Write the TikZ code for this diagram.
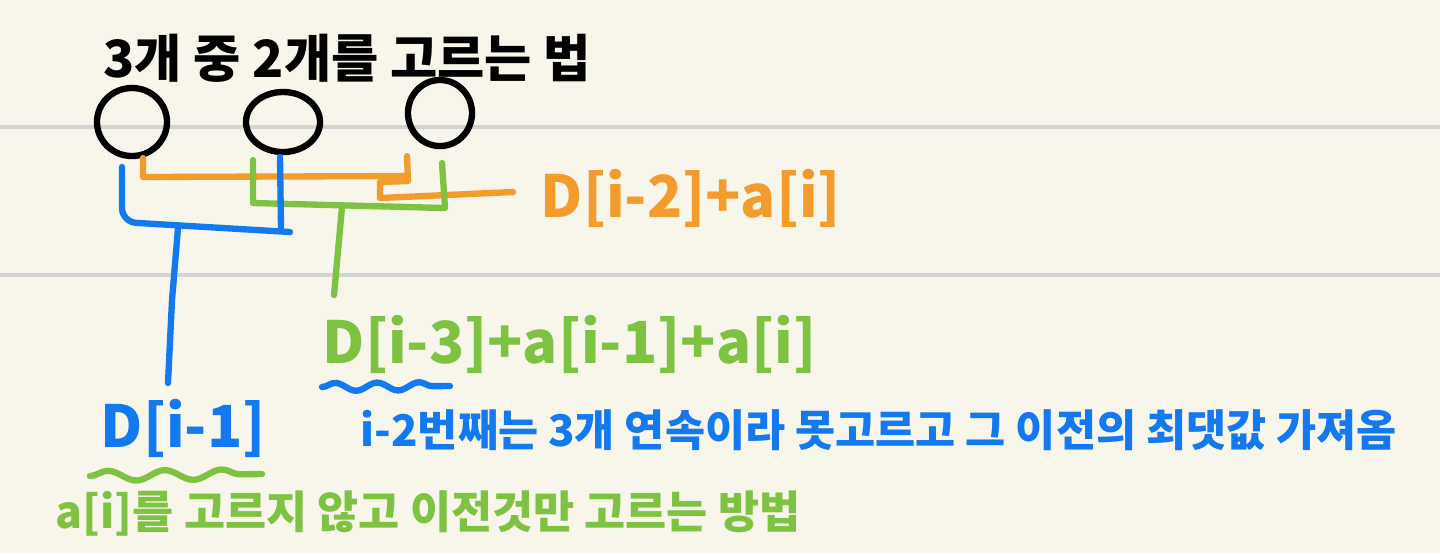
\documentclass[tikz,border=0pt]{standalone}
\usepackage{fontspec}
\setmainfont{Noto Sans CJK KR}
\usetikzlibrary{shapes.geometric,decorations.pathmorphing}
\definecolor{papier}{HTML}{F8F6EA}
\definecolor{regle}{HTML}{D3D3D3}
\definecolor{orangeS}{HTML}{F39B2B}
\definecolor{vertS}{HTML}{7EC242}
\definecolor{bleuS}{HTML}{1279F0}

\begin{document}
\begin{tikzpicture}[x=0.01cm, y=-0.01cm]
  % Styles du croquis
  \tikzset{
    trait/.style={line width=1.8pt, line cap=round, line join=round},
    rond/.style={ellipse, draw, trait, inner sep=0pt},
    ligne/.style={regle, line width=1.2pt},
    etiq/.style={anchor=west, inner sep=0pt, font=\bfseries\fontsize{16.5}{19}\selectfont},
    note/.style={anchor=west, inner sep=0pt, font=\bfseries\fontsize{12.4}{14}\selectfont},
    vague/.style={trait, decorate, decoration={snake, amplitude=0.4mm, segment length=4.2mm}}
  }

  % Fond et lignes du cahier
  \fill[papier] (0,0) rectangle (1440,553);
  \useasboundingbox (0,0) rectangle (1440,553);
  \draw[ligne] (0,127) -- (1440,127);
  \draw[ligne] (0,275) -- (1440,275);

  % Titre
  \node[note, font=\bfseries\fontsize{14.6}{16}\selectfont] (titre) at (103,58) {3개 중 2개를 고르는 법};

  % --- Les trois éléments ---
  \node[rond, minimum width=0.70cm, minimum height=0.68cm] (c1) at (132,122) {};
  \node[rond, minimum width=0.74cm, minimum height=0.60cm] (c2) at (283,122) {};
  \node[rond, minimum width=0.64cm, minimum height=0.66cm] (c3) at (440,113) {};

  % --- Étiquettes ---
  \node[etiq, orangeS] (d2) at (540,198) {D[i-2]+a[i]};
  \node[etiq, vertS] (d3) at (322,344) {D[i-3]+a[i-1]+a[i]};
  \node[etiq, bleuS] (d1) at (100,428) {D[i-1]};
  \node[note, bleuS] (n3) at (360,430) {i-2번째는 3개 연속이라 못고르고 그 이전의 최댓값 가져옴};
  \node[note, vertS, font=\bfseries\fontsize{12.7}{14}\selectfont] (n1) at (55,513) {a[i]를 고르지 않고 이전것만 고르는 방법};

  % Points d'arrivée des tiges
  \coordinate (p2) at (513,192);
  \coordinate (p3) at (334,295);
  \coordinate (p1) at (168,383);

  % --- Accolades ---
  % orange : 1er et 3e
  \draw[trait, orangeS] (143,158) -- (143,177) -- (407,176);
  \draw[trait, orangeS] (407,156) -- (408,181) -- (380,182) -- (380,198) -- (p2);
  % vert : 2e et 3e
  \draw[trait, vertS] (253,160) -- (253,203) -- (445,208) -- (442,163);
  \draw[trait, vertS] (342,207) -- (p3);
  % bleu : 1er et 2e
  \draw[trait, bleuS, rounded corners=4pt] (122,167) -- (122,222) -- (290,232);
  \draw[trait, bleuS] (280,157) -- (281,228);
  \draw[trait, bleuS] (178,228) -- (172,300) -- (p1);

  % Soulignements ondulés
  \draw[vague, bleuS] (322,387) -- (450,386);
  \draw[vague, vertS, decoration={snake, amplitude=0.5mm, segment length=5.7mm}] (90,476) -- (262,474);

\end{tikzpicture}
\end{document}
